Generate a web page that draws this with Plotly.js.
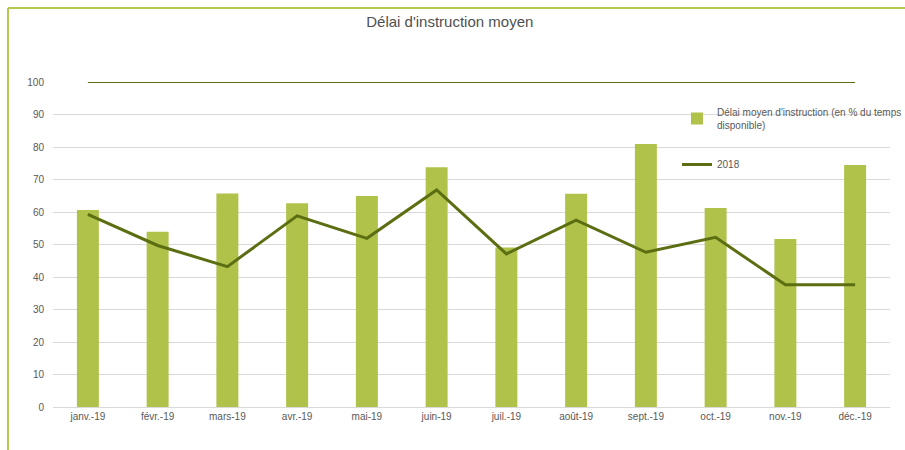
<!DOCTYPE html>
<html>
<head>
<meta charset="utf-8">
<script src="https://cdn.plot.ly/plotly-3.0.1.min.js"></script>
<style>html,body{margin:0;padding:0;background:#fff;}#chart{width:905px;height:450px;}</style>
</head>
<body>
<div id="chart"></div>
<script>
const months = ["janv.-19","févr.-19","mars-19","avr.-19","mai-19","juin-19","juil.-19","août-19","sept.-19","oct.-19","nov.-19","déc.-19"];
const delaiMoyen = [60.6, 53.9, 65.7, 62.7, 64.9, 73.8, 49.1, 65.6, 80.9, 61.2, 51.7, 74.5];
const serie2018 = [59.3, 49.7, 43.2, 58.8, 51.9, 66.8, 47.1, 57.5, 47.6, 52.2, 37.6, 37.6];
const objectif = [100, 100, 100, 100, 100, 100, 100, 100, 100, 100, 100, 100];

const W = 905, H = 450;
const m = {l: 53, r: 15, t: 82, b: 43, autoexpand: false};
const pw = W - m.l - m.r, ph = H - m.t - m.b;
const px = x => (x - m.l) / pw;
const py = y => (H - m.b - y) / ph;

const font = "Liberation Sans, Arial, sans-serif";
const bar = {
  type: 'bar', x: months, y: delaiMoyen,
  name: "Délai moyen d'instruction (en % du temps<br>disponible)",
  marker: {color: '#b0c24a'}, legendgroup: 'a'
};
const line18 = {
  type: 'scatter', mode: 'lines', x: months, y: serie2018, name: '2018',
  line: {color: '#5b6e12', width: 3}, legendgroup: 'b', cliponaxis: false
};
const line100 = {
  type: 'scatter', mode: 'lines', x: months, y: objectif, name: 'objectif',
  line: {color: '#5b6e12', width: 2}, showlegend: false, cliponaxis: false
};

const layout = {
  width: W, height: H,
  margin: m,
  paper_bgcolor: '#fff', plot_bgcolor: '#fff',
  font: {family: font, size: 10, color: '#595959'},
  title: {text: "Délai d'instruction moyen", font: {family: font, size: 15, color: '#505050'},
          x: 0.497, xanchor: 'center', y: 1 - 22 / H, yanchor: 'middle'},
  bargap: 0.685,
  showlegend: true,
  legend: {x: px(677), xanchor: 'left', y: py(99), yanchor: 'top',
           traceorder: 'grouped', tracegroupgap: 22, bgcolor: 'rgba(0,0,0,0)',
           font: {family: font, size: 10, color: '#595959'}, itemwidth: 30},
  xaxis: {type: 'category', showgrid: false, zeroline: false, showline: true,
          linecolor: '#d9d9d9', linewidth: 1, ticks: '', tickfont: {size: 10, color: '#595959'}},
  yaxis: {range: [0, 100], dtick: 10, showgrid: true, gridcolor: '#d9d9d9', gridwidth: 1,
          zeroline: false, showline: false, ticks: '', ticklabelstandoff: 8,
          tickfont: {size: 10, color: '#595959'}},
  shapes: [
    {type: 'line', xref: 'paper', yref: 'paper', x0: px(8), x1: px(8), y0: py(8), y1: py(450),
     line: {color: '#b5c84f', width: 2}},
    {type: 'line', xref: 'paper', yref: 'paper', x0: px(8), x1: px(905), y0: py(8), y1: py(8),
     line: {color: '#b5c84f', width: 2}}
  ]
};

Plotly.newPlot('chart', [bar, line100, line18], layout, {displayModeBar: false, staticPlot: true});
</script>
</body>
</html>
